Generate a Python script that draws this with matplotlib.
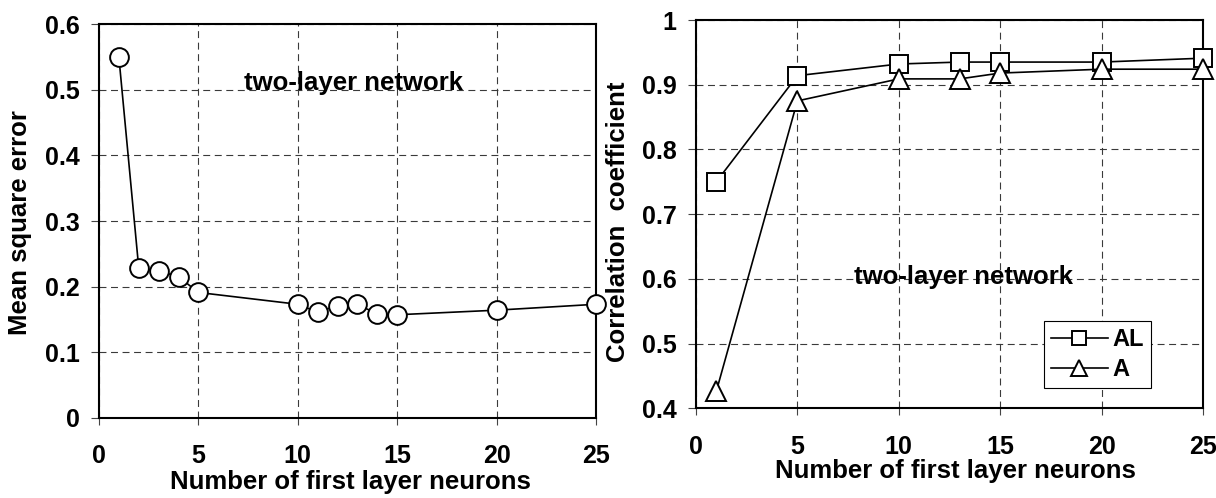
import matplotlib
matplotlib.use("Agg")
import matplotlib.pyplot as plt

plt.rcParams['font.family'] = ['Liberation Sans', 'DejaVu Sans']
plt.rcParams['font.weight'] = 'bold'
plt.rcParams['lines.scale_dashes'] = False

# Left panel data: mean square error
mse_neurons = [1, 2, 3, 4, 5, 10, 11, 12, 13, 14, 15, 20, 25]
mse_values = [0.550, 0.228, 0.224, 0.215, 0.191, 0.173, 0.161, 0.171, 0.173, 0.158, 0.157, 0.164, 0.173]

# Right panel data: correlation coefficient
cc_neurons = [1, 5, 10, 13, 15, 20, 25]
cc_AL = [0.750, 0.914, 0.932, 0.935, 0.935, 0.935, 0.941]
cc_A = [0.426, 0.875, 0.909, 0.909, 0.918, 0.924, 0.924]

x_ticks = [0, 5, 10, 15, 20, 25]
left_yticks = [0, 0.1, 0.2, 0.3, 0.4, 0.5, 0.6]
left_yticklabels = ['0', '0.1', '0.2', '0.3', '0.4', '0.5', '0.6']
right_yticks = [0.4, 0.5, 0.6, 0.7, 0.8, 0.9, 1.0]
right_yticklabels = ['0.4', '0.5', '0.6', '0.7', '0.8', '0.9', '1']

TFS = 18      # tick labels
LFS = 18.5    # axis labels / annotations
fig = plt.figure(figsize=(12.16, 4.98), dpi=100)
ax1 = fig.add_axes([99 / 1216, (498 - 417.7) / 498, 497 / 1216, 393.4 / 498])
ax2 = fig.add_axes([696 / 1216, (498 - 408.3) / 498, 507 / 1216, 388.3 / 498])

grid_kw = dict(color='#3a3a3a', linestyle=(0, (5, 3.3)), linewidth=0.8)

def style(ax, yticks, yticklabels, ylim):
    ax.set_xlim(0, 25)
    ax.set_ylim(*ylim)
    ax.set_xticks(x_ticks)
    ax.set_xticklabels([str(t) for t in x_ticks], fontsize=TFS, fontweight='bold')
    ax.set_yticks(yticks)
    ax.set_yticklabels(yticklabels, fontsize=TFS, fontweight='bold')
    ax.grid(True, **grid_kw)
    ax.set_axisbelow(True)
    for s in ax.spines.values():
        s.set_linewidth(1.5)
        s.set_color('black')
    ax.tick_params(axis='x', direction='out', length=5, width=0.8, pad=14, color='#444444')
    ax.tick_params(axis='y', direction='out', length=5.8, width=0.8, pad=8, color='#444444')

style(ax1, left_yticks, left_yticklabels, (0, 0.6))
ax1.plot(mse_neurons, mse_values, color='black', linewidth=1.2, marker='o',
         markersize=13.5, markerfacecolor='white', markeredgecolor='black',
         markeredgewidth=1.4, clip_on=False, zorder=5)
ax1.text(12.8, 0.51, 'two-layer network', fontsize=LFS, fontweight='bold',
         ha='center', va='center')
ax1.set_ylabel('Mean square error', fontsize=LFS, fontweight='bold')
ax1.yaxis.set_label_coords(-0.135, 0.495)
ax1.set_xlabel('Number of first layer neurons', fontsize=LFS, fontweight='bold')
ax1.xaxis.set_label_coords(0.506, -0.133)

style(ax2, right_yticks, right_yticklabels, (0.4, 1.0))
ax2.plot(cc_neurons, cc_AL, color='black', linewidth=1.2, marker='s',
         markersize=13, markerfacecolor='white', markeredgecolor='black',
         markeredgewidth=1.4, clip_on=False, zorder=5, label='AL')
ax2.plot(cc_neurons, cc_A, color='black', linewidth=1.2, marker='^',
         markersize=14.5, markerfacecolor='white', markeredgecolor='black',
         markeredgewidth=1.4, clip_on=False, zorder=5, label='A')
ax2.text(13.2, 0.603, 'two-layer network', fontsize=LFS, fontweight='bold',
         ha='center', va='center')
ax2.set_ylabel('Correlation  coefficient', fontsize=LFS, fontweight='bold')
ax2.yaxis.set_label_coords(-0.130, 0.48)
ax2.set_xlabel('Number of first layer neurons', fontsize=LFS, fontweight='bold')
ax2.xaxis.set_label_coords(0.512, -0.1306)

leg = ax2.legend(loc='upper left', bbox_to_anchor=(0.686, 0.225),
                 prop={'weight': 'bold', 'size': 17}, frameon=True, fancybox=False,
                 edgecolor='black', framealpha=1, borderaxespad=0, borderpad=0.3,
                 handlelength=2.4, handletextpad=0.2, labelspacing=0.3,
                 markerscale=0.75)
leg.get_frame().set_linewidth(0.8)
leg.set_zorder(10)

fig.savefig('out.png', dpi=100)
